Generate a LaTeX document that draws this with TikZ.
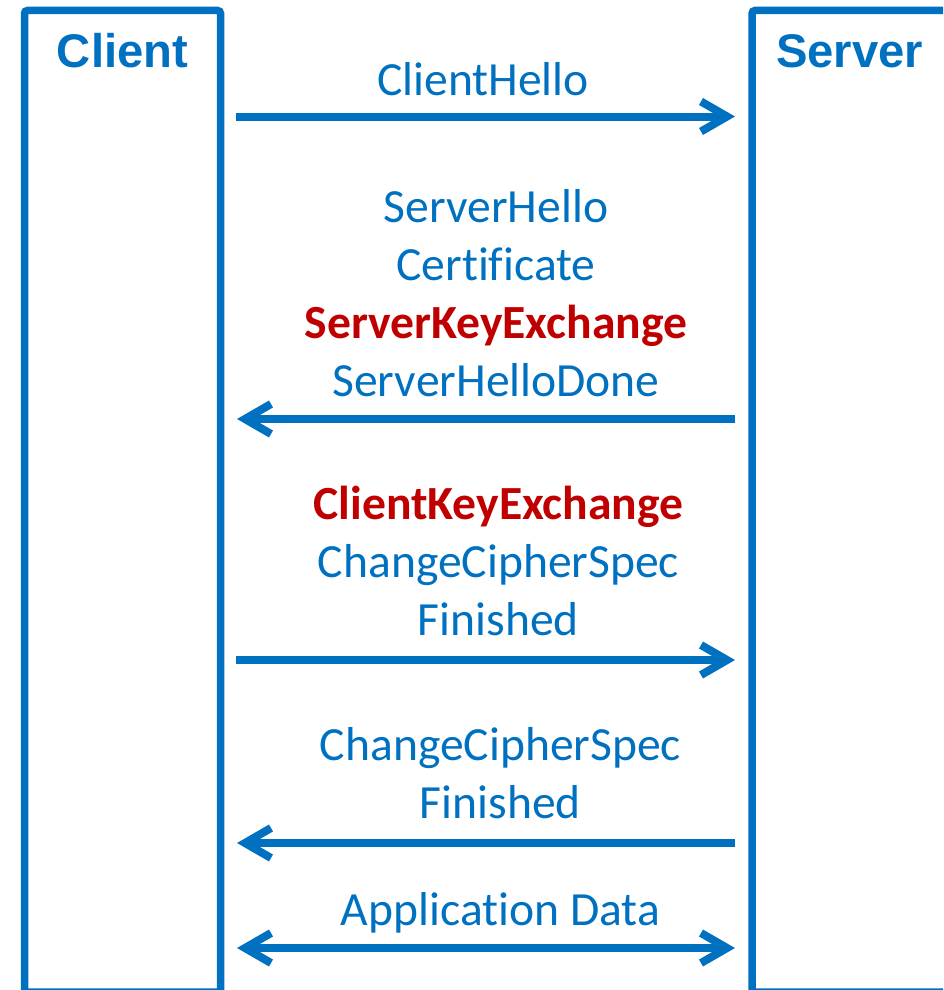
\documentclass[tikz,border=0pt]{standalone}
\usepackage{fontspec}
\setmainfont{Carlito}[Ligatures=NoCommon]
\newfontfamily\actorfont{Liberation Sans}
\usetikzlibrary{arrows.meta,positioning}
\definecolor{tlsblue}{HTML}{0070C0}
\definecolor{tlsred}{HTML}{C00000}
\newcommand\keyline[1]{\textcolor{tlsred}{\bfseries #1}}

\begin{document}
\begin{tikzpicture}[
  x=1pt,y=-1pt,
  font=\fontsize{47.6}{57.7}\selectfont,
  lifeline/.style={draw=tlsblue,line width=7.5pt,rounded corners=3pt,minimum width=196pt,minimum height=981.5pt,anchor=north west,inner sep=0pt,outer sep=0pt},
  actor/.style={text=tlsblue,font=\actorfont\bfseries\fontsize{47.2}{56}\selectfont,anchor=base,inner sep=0pt},
  msg/.style={draw=tlsblue,line width=8pt,-{Straight Barb[length=26pt,width=30pt]}},
  msgboth/.style={draw=tlsblue,line width=8pt,{Straight Barb[length=26pt,width=30pt]}-{Straight Barb[length=26pt,width=30pt]}},
  msgtext/.style={text=tlsblue,align=center,anchor=base,inner sep=0pt},
]
  \useasboundingbox (0,0) rectangle (943,990);
  \clip (0,0) rectangle (943,990);

  \node[lifeline] (client) at (24.5,10.5) {};
  \node[lifeline] (server) at (752,10.5) {};
  \node[actor] (clientname) at (122.5,67) {Client};
  \node[actor] (servername) at (849.5,67) {Server};

  % message ends between the two lifelines
  \coordinate (hello-c) at (236,116.5);   \coordinate (hello-s) at (735,116.5);
  \coordinate (srvkey-c) at (237,419);    \coordinate (srvkey-s) at (735,419);
  \coordinate (clikey-c) at (236,660);    \coordinate (clikey-s) at (735,660);
  \coordinate (fin-c) at (237,843);       \coordinate (fin-s) at (735,843);
  \coordinate (data-c) at (237,948);      \coordinate (data-s) at (735,948);

  \draw[msg] (hello-c) -- (hello-s);
  \draw[msg] (srvkey-s) -- (srvkey-c);
  \draw[msg] (clikey-c) -- (clikey-s);
  \draw[msg] (fin-s) -- (fin-c);
  \draw[msgboth] (data-c) -- (data-s);

  % labels sit on the baseline of their last line
  \node[msgtext] (hello) at (483,95.5) {ClientHello};
  \node[msgtext] (srvkey) at (496,396) {ServerHello\\Certificate\\\keyline{ServerKeyExchange}\\ServerHelloDone};
  \node[msgtext] (clikey) at (498.5,635) {\keyline{ClientKeyExchange}\\ChangeCipherSpec\\Finished};
  \node[msgtext] (fin) at (500.5,818.5) {ChangeCipherSpec\\Finished};
  \node[msgtext] (data) at (500.5,925.5) {Application Data};
\end{tikzpicture}
\end{document}
